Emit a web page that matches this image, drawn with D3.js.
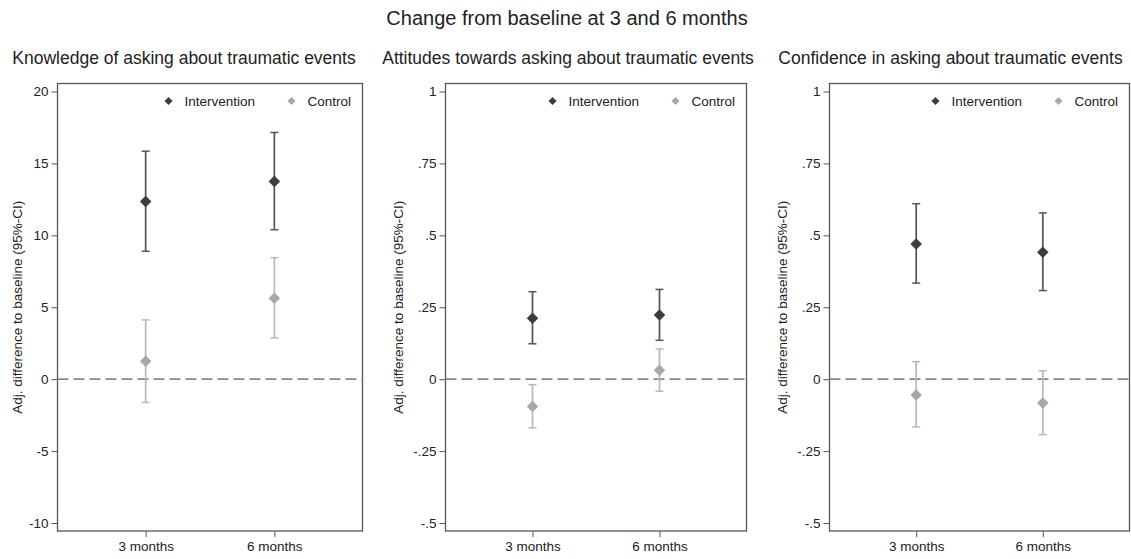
<!DOCTYPE html>
<html>
<head>
<meta charset="utf-8">
<script src="https://cdn.jsdelivr.net/npm/d3@7"></script>
<style>
  body { margin: 0; background: #fff; }
  text { font-family: "Liberation Sans", Arial, sans-serif; fill: #222; }
</style>
</head>
<body>
<div id="chart"></div>
<script>
const width = 1131;
const height = 559;

// categories and series
const periods = ["3 months", "6 months"];
const seriesNames = ["Intervention", "Control"];
const mainTitle = "Change from baseline at 3 and 6 months";
const panelTitles = [
  "Knowledge of asking about traumatic events",
  "Attitudes towards asking about traumatic events",
  "Confidence in asking about traumatic events"
];
const yLabel = "Adj. difference to baseline (95%-CI)";

// [estimate, lower CI, upper CI] per period
const knowledgeIntervention = [[12.35, 8.89, 15.85], [13.75, 10.39, 17.15]];
const knowledgeControl = [[1.25, -1.62, 4.12], [5.63, 2.87, 8.45]];
const attitudesIntervention = [[0.212, 0.123, 0.304], [0.223, 0.135, 0.312]];
const attitudesControl = [[-0.095, -0.169, -0.019], [0.031, -0.042, 0.105]];
const confidenceIntervention = [[0.470, 0.334, 0.610], [0.441, 0.308, 0.578]];
const confidenceControl = [[-0.055, -0.166, 0.061], [-0.083, -0.193, 0.029]];

// y ticks and their labels
const knowledgeTicks = [-10, -5, 0, 5, 10, 15, 20];
const knowledgeTickLabels = ["-10", "-5", "0", "5", "10", "15", "20"];
const scaleTicks = [-0.5, -0.25, 0, 0.25, 0.5, 0.75, 1];
const scaleTickLabels = ["-.5", "-.25", "0", ".25", ".5", ".75", "1"];

const panels = [
  { title: panelTitles[0], series: [knowledgeIntervention, knowledgeControl], ticks: knowledgeTicks, labels: knowledgeTickLabels, left: 57.5, w: 305, titleX: 184, ylabX: 17 },
  { title: panelTitles[1], series: [attitudesIntervention, attitudesControl], ticks: scaleTicks, labels: scaleTickLabels, left: 445.5, w: 301, titleX: 568, ylabX: 398.5 },
  { title: panelTitles[2], series: [confidenceIntervention, confidenceControl], ticks: scaleTicks, labels: scaleTickLabels, left: 829.5, w: 300, titleX: 950.5, ylabX: 782 }
];

const markColor = ["#3d3d3d", "#a8a8a8"];
const barColor = ["#555555", "#b8b8b8"];
const frameTop = 83.5, frameBottom = 531;

const svg = d3.select("#chart")
  .append("svg")
  .attr("width", width)
  .attr("height", height);

svg.append("text")
  .attr("x", 567)
  .attr("y", 25)
  .attr("text-anchor", "middle")
  .style("font-size", "20px")
  .text(mainTitle);

const diamond = d3.symbol().type(d3.symbolDiamond2);

panels.forEach(p => {
  const g = svg.append("g");

  const y = d3.scaleLinear()
    .domain([p.ticks[0], p.ticks[p.ticks.length - 1]])
    .range([523, 91.5]);

  const x = d3.scalePoint()
    .domain(periods)
    .range([p.left, p.left + p.w])
    .padding(0.685);

  g.append("text")
    .attr("x", p.titleX)
    .attr("y", 64)
    .attr("text-anchor", "middle")
    .style("font-size", "17.5px")
    .text(p.title);

  // frame
  g.append("rect")
    .attr("x", p.left)
    .attr("y", frameTop)
    .attr("width", p.w)
    .attr("height", frameBottom - frameTop)
    .attr("fill", "none")
    .attr("stroke", "#555")
    .attr("stroke-width", 1.3);

  // y axis
  const yAxis = g.append("g")
    .attr("transform", `translate(${p.left},0)`)
    .call(d3.axisLeft(y)
      .tickValues(p.ticks)
      .tickFormat((d, i) => p.labels[i])
      .tickSize(6)
      .tickPadding(3));
  yAxis.select(".domain").remove();
  yAxis.selectAll(".tick line").attr("stroke", "#555");
  yAxis.selectAll(".tick text")
    .style("font-size", "13.5px")
    .style("font-family", "'Liberation Sans', Arial, sans-serif")
    .attr("fill", "#333");

  // x axis
  const xAxis = g.append("g")
    .attr("transform", `translate(0,${frameBottom})`)
    .call(d3.axisBottom(x).tickSize(6).tickPadding(4));
  xAxis.select(".domain").remove();
  xAxis.selectAll(".tick line").attr("stroke", "#555");
  xAxis.selectAll(".tick text")
    .style("font-size", "13.5px")
    .style("font-family", "'Liberation Sans', Arial, sans-serif")
    .attr("fill", "#333");

  g.append("text")
    .attr("transform", `translate(${p.ylabX},${(frameTop + frameBottom) / 2}) rotate(-90)`)
    .attr("text-anchor", "middle")
    .attr("dy", "0.35em")
    .style("font-size", "13.5px")
    .text(yLabel);

  // zero reference line
  g.append("line")
    .attr("x1", p.left)
    .attr("x2", p.left + p.w)
    .attr("y1", y(0))
    .attr("y2", y(0))
    .attr("stroke", "#8a8a8a")
    .attr("stroke-width", 1.6)
    .attr("stroke-dasharray", "11,5");

  // error bars and points (control drawn first)
  [1, 0].forEach(s => {
    const rows = p.series[s].map((d, i) => ({ period: periods[i], est: d[0], lo: d[1], hi: d[2] }));
    const sg = g.append("g");
    sg.selectAll("line.ci")
      .data(rows)
      .join("line")
      .attr("class", "ci")
      .attr("x1", d => x(d.period))
      .attr("x2", d => x(d.period))
      .attr("y1", d => y(d.lo))
      .attr("y2", d => y(d.hi))
      .attr("stroke", barColor[s])
      .attr("stroke-width", 1.7);
    ["lo", "hi"].forEach(k => {
      sg.selectAll("line.cap-" + k)
        .data(rows)
        .join("line")
        .attr("class", "cap-" + k)
        .attr("x1", d => x(d.period) - 4)
        .attr("x2", d => x(d.period) + 4)
        .attr("y1", d => y(d[k]))
        .attr("y2", d => y(d[k]))
        .attr("stroke", barColor[s])
        .attr("stroke-width", 1.5);
    });
    sg.selectAll("path")
      .data(rows)
      .join("path")
      .attr("d", diamond.size(85))
      .attr("transform", d => `translate(${x(d.period)},${y(d.est)})`)
      .attr("fill", markColor[s]);
  });

  // legend
  const right = p.left + p.w;
  const leg = g.append("g");
  const legX = [right - 194, right - 71];
  seriesNames.forEach((name, s) => {
    leg.append("path")
      .attr("d", diamond.size(42))
      .attr("transform", `translate(${legX[s]},101)`)
      .attr("fill", markColor[s]);
    leg.append("text")
      .attr("x", legX[s] + 16)
      .attr("y", 101)
      .attr("dy", "0.35em")
      .style("font-size", "13.5px")
      .text(name);
  });
});
</script>
</body>
</html>
